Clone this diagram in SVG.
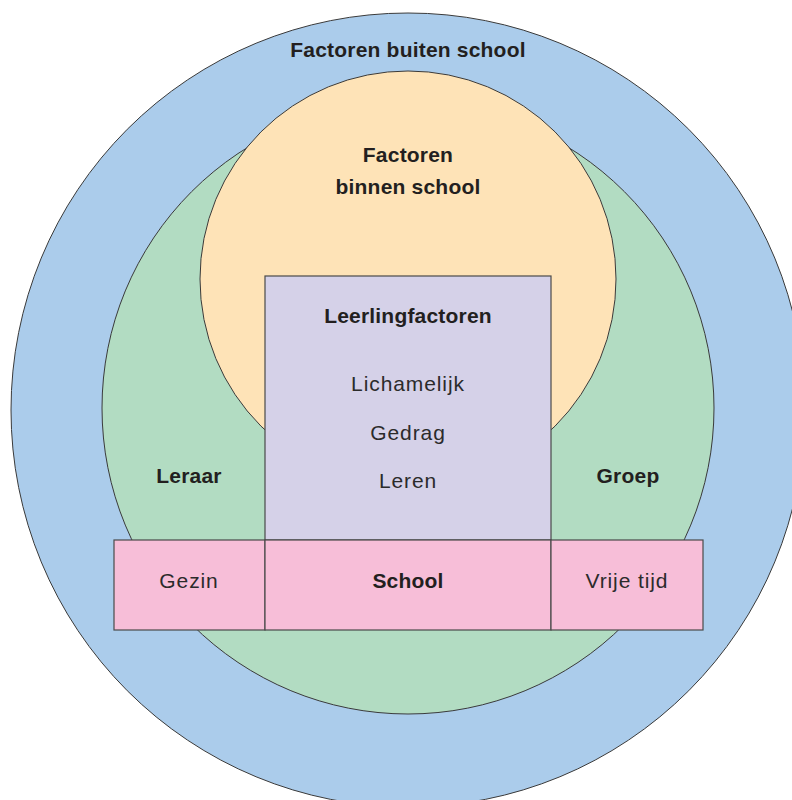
<svg xmlns="http://www.w3.org/2000/svg" width="792" height="800" viewBox="0 0 792 800">
  <style>
    .ring { stroke: #3a3a3a; stroke-width: 1; }
    .box { stroke: #4a4a4a; stroke-width: 1.2; }
    .t { font-family: "Liberation Sans", Arial, sans-serif; font-size: 21px; fill: #2b2b2b; text-anchor: middle; letter-spacing: 0.9px; }
    .b { font-weight: bold; fill: #231f20; letter-spacing: 0.2px; }
  </style>
  <rect width="792" height="800" fill="#ffffff"/>

  <!-- outer ring: factors outside school -->
  <g id="buiten">
    <circle class="ring" cx="408" cy="410" r="397" fill="#abcceb"/>
    <text class="t b" x="408" y="57">Factoren buiten school</text>
  </g>

  <!-- middle ring: teacher and group -->
  <g id="klas">
    <circle class="ring" cx="408" cy="408" r="306" fill="#b2dcc2"/>
    <text class="t b" x="189" y="483">Leraar</text>
    <text class="t b" x="628" y="483">Groep</text>
  </g>

  <!-- inner circle: factors inside school -->
  <g id="binnen">
    <circle class="ring" cx="408" cy="279" r="208" fill="#fee3b7"/>
    <text class="t b" x="408" y="162">Factoren</text>
    <text class="t b" x="408" y="194">binnen school</text>
  </g>

  <!-- pupil factors -->
  <g id="leerling">
    <rect class="box" x="265" y="276" width="286" height="264" fill="#d5d1e8"/>
    <text class="t b" x="408" y="323">Leerlingfactoren</text>
    <text class="t" x="408" y="391">Lichamelijk</text>
    <text class="t" x="408" y="440">Gedrag</text>
    <text class="t" x="408" y="488">Leren</text>
  </g>

  <!-- bottom row: home, school, leisure -->
  <g id="gezin">
    <rect class="box" x="114" y="540" width="151" height="90" fill="#f7bed8"/>
    <text class="t" x="189" y="588">Gezin</text>
  </g>
  <g id="school">
    <rect class="box" x="265" y="540" width="286" height="90" fill="#f7bed8"/>
    <text class="t b" x="408" y="588">School</text>
  </g>
  <g id="vrijetijd">
    <rect class="box" x="551" y="540" width="152" height="90" fill="#f7bed8"/>
    <text class="t" x="627" y="588">Vrije tijd</text>
  </g>

  <g id="connectors"/>
</svg>
